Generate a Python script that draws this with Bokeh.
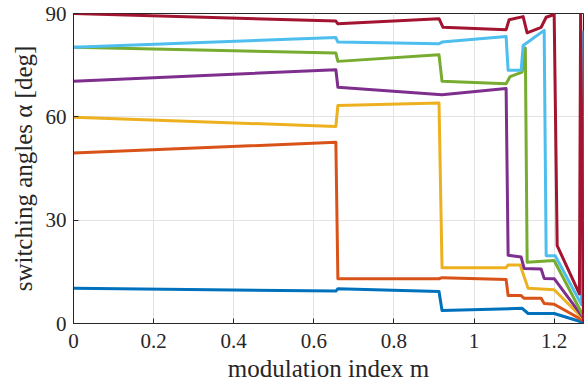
from bokeh.plotting import figure
from bokeh.models import FixedTicker, Range1d
from bokeh.embed import file_html
from bokeh.resources import INLINE

# ---- data ----
blue_x = [0, 0.655, 0.66, 0.9125, 0.92, 1.12, 1.135, 1.2, 1.2732]
blue_y = [10.2, 9.4, 10.1, 9.3, 3.8, 4.4, 2.9, 2.9, 0.3]

orange_x = [0, 0.655, 0.66, 0.9125, 0.92, 1.08, 1.085, 1.1175, 1.125, 1.1675, 1.175, 1.2, 1.2732]
orange_y = [49.5, 52.6, 13.0, 13.0, 13.3, 12.8, 8.1, 8.1, 7.3, 7.3, 5.8, 5.6, 0.8]

yellow_x = [0, 0.655, 0.66, 0.9125, 0.92, 1.08, 1.085, 1.115, 1.135, 1.2, 1.2732]
yellow_y = [59.9, 57.2, 63.3, 64.0, 16.2, 16.2, 17.0, 17.0, 10.2, 9.8, 1.3]

purple_x = [0, 0.655, 0.66, 0.92, 1.08, 1.085, 1.1175, 1.125, 1.1675, 1.175, 1.2, 1.2732]
purple_y = [70.3, 73.7, 68.6, 66.4, 68.2, 19.8, 19.3, 16.0, 15.8, 13.1, 13.0, 1.6]

green_x = [0, 0.655, 0.66, 0.9125, 0.92, 1.08, 1.09, 1.12, 1.128, 1.1325, 1.2, 1.2732]
green_y = [80.2, 78.5, 76.1, 78.0, 70.3, 69.6, 71.7, 73.0, 80.0, 17.8, 18.3, 2.0]

cyan_x = [0, 0.655, 0.66, 0.9125, 0.92, 1.08, 1.085, 1.1175, 1.1225, 1.175, 1.18, 1.2025, 1.268, 1.2732]
cyan_y = [80.2, 83.0, 81.7, 81.2, 81.7, 83.3, 73.5, 73.5, 80.7, 85.1, 19.7, 19.7, 5.5, 85.0]

crimson_x = [0, 0.655, 0.66, 0.9125, 0.9225, 1.08, 1.0875, 1.1225, 1.1325, 1.1675, 1.18, 1.2,
             1.2075, 1.263, 1.266, 1.2732]
crimson_y = [90, 87.8, 87.0, 88.5, 86.0, 85.3, 88.2, 89.1, 84.4, 86.0, 88.9, 89.7,
             22.6, 8.6, 90, 0.5]

x_ticks = [0, 0.2, 0.4, 0.6, 0.8, 1.0, 1.2]
x_tick_labels = {0: "0", 0.2: "0.2", 0.4: "0.4", 0.6: "0.6", 0.8: "0.8", 1.0: "1", 1.2: "1.2"}
y_ticks = [0, 30, 60, 90]

series = [
    (blue_x, blue_y, "#0072BD"),
    (orange_x, orange_y, "#D95319"),
    (yellow_x, yellow_y, "#EDB120"),
    (purple_x, purple_y, "#7E2F8E"),
    (green_x, green_y, "#77AC30"),
    (cyan_x, cyan_y, "#4DBEEE"),
    (crimson_x, crimson_y, "#A2142F"),
]

FONT = "Liberation Serif"
DARK = "#262626"

p = figure(width=586, height=389, output_backend="svg", toolbar_location=None,
           x_range=Range1d(0, 1.2732), y_range=Range1d(0, 90),
           min_border_left=73, min_border_right=3, min_border_top=13, min_border_bottom=66)
p.outline_line_color = DARK
p.background_fill_color = "white"
p.border_fill_color = "white"

for xs, ys, c in series:
    p.line(xs, ys, line_color=c, line_width=3, line_join="round")

for ax in (p.xaxis[0], p.yaxis[0]):
    ax.axis_line_color = DARK
    ax.major_tick_line_color = DARK
    ax.major_tick_in = 5
    ax.major_tick_out = 0
    ax.minor_tick_line_color = None
    ax.major_label_text_font = FONT
    ax.major_label_text_font_size = "21px"
    ax.major_label_text_color = DARK
    ax.axis_label_text_font = FONT
    ax.axis_label_text_font_size = "25px"
    ax.axis_label_text_font_style = "normal"
    ax.axis_label_text_color = DARK

p.xaxis[0].ticker = FixedTicker(ticks=x_ticks)
p.xaxis[0].major_label_overrides = x_tick_labels
p.xaxis[0].major_label_standoff = 10
p.xaxis[0].axis_label = "modulation index m"
p.xaxis[0].axis_label_standoff = 4

p.yaxis[0].ticker = FixedTicker(ticks=y_ticks)
p.yaxis[0].major_label_standoff = 7
p.yaxis[0].axis_label = "switching angles α [deg]"
p.yaxis[0].axis_label_standoff = 6

p.xgrid.ticker = FixedTicker(ticks=x_ticks)
p.ygrid.ticker = FixedTicker(ticks=y_ticks)
p.xgrid.grid_line_color = "#e3e3e3"
p.ygrid.grid_line_color = "#e3e3e3"

open("out.html", "w").write(file_html(p, INLINE))
